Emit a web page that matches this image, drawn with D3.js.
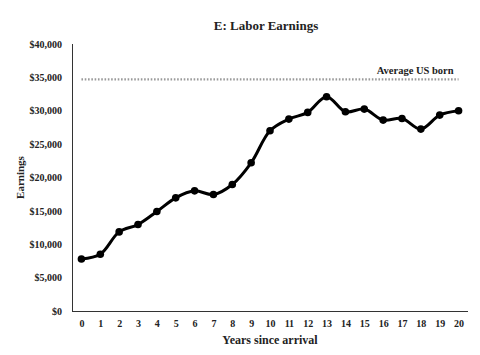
<!DOCTYPE html>
<html><head><meta charset="utf-8">
<script src="https://cdn.jsdelivr.net/npm/d3@7"></script>
<style>body{margin:0;background:#fff}svg text{font-family:"Liberation Serif","Times New Roman",serif;fill:#222}</style>
</head><body><svg id="c" width="480" height="355"></svg>
<script>
const years = d3.range(0, 21).map(String);
const earnings = [7800, 8500, 11850, 12950, 14900, 16950, 18000, 17450, 18950, 22200, 27000, 28750, 29750, 32100, 29850, 30250, 28600, 28850, 27250, 29350, 30000];
const usBorn = 34700;
const yTicks = [0, 5000, 10000, 15000, 20000, 25000, 30000, 35000, 40000];
const title = "E: Labor Earnings";
const xTitle = "Years since arrival";
const yTitle = "Earnings";
const refLabel = "Average US born";

const svg = d3.select("#c");
const L = 72, R = 468, T = 44, B = 311;
const x = d3.scalePoint().domain(years).range([L, R]).padding(0.5);
const y = d3.scaleLinear().domain([0, 40000]).range([B, T]);

svg.append("text").attr("x", 266).attr("y", 30).attr("text-anchor", "middle")
  .style("font-size", "13px").style("font-weight", "bold").text(title);

const xa = svg.append("g").attr("transform", `translate(0,${B})`)
  .call(d3.axisBottom(x).tickSize(0).tickPadding(9));
xa.select(".domain").attr("d", `M${L},0.5H${R}`).attr("stroke", "#333").attr("stroke-width", 1);
xa.selectAll("text").style("font-size", "10px").style("font-weight", "bold").style("font-family", '"Liberation Serif",serif').attr("fill", "#222");

const ya = svg.append("g").attr("transform", `translate(${L},0)`)
  .call(d3.axisLeft(y).tickValues(yTicks).tickSize(0).tickPadding(10).tickFormat(d => "$" + d3.format(",")(d)));
ya.select(".domain").attr("d", `M0.5,${T}V${B}`).attr("stroke", "#333").attr("stroke-width", 1);
ya.selectAll("text").style("font-size", "10px").style("font-weight", "bold").style("font-family", '"Liberation Serif",serif').attr("fill", "#222");

svg.append("text").attr("x", 270).attr("y", 344).attr("text-anchor", "middle")
  .style("font-size", "12px").style("font-weight", "bold").text(xTitle);
svg.append("text").attr("transform", `translate(24,${(T + B) / 2}) rotate(-90)`).attr("text-anchor", "middle")
  .style("font-size", "11px").style("font-weight", "bold").text(yTitle);

svg.append("line").attr("x1", x(years[0])).attr("x2", x(years[years.length - 1]))
  .attr("y1", y(usBorn)).attr("y2", y(usBorn))
  .attr("stroke", "#9a9a9a").attr("stroke-width", 2.2).attr("stroke-dasharray", "1.6,1.7");
svg.append("text").attr("x", x(years[years.length - 1]) - 5).attr("y", y(usBorn) - 5).attr("text-anchor", "end")
  .style("font-size", "10.5px").style("font-weight", "bold").text(refLabel);

const line = d3.line().x((d, i) => x(years[i])).y(d => y(d)).curve(d3.curveCatmullRom);
svg.append("path").datum(earnings).attr("d", line).attr("fill", "none")
  .attr("stroke", "#000").attr("stroke-width", 3).attr("stroke-linejoin", "round");
svg.selectAll("circle.pt").data(earnings).enter().append("circle").attr("class", "pt")
  .attr("cx", (d, i) => x(years[i])).attr("cy", d => y(d)).attr("r", 3.8).attr("fill", "#000");
</script></body></html>
